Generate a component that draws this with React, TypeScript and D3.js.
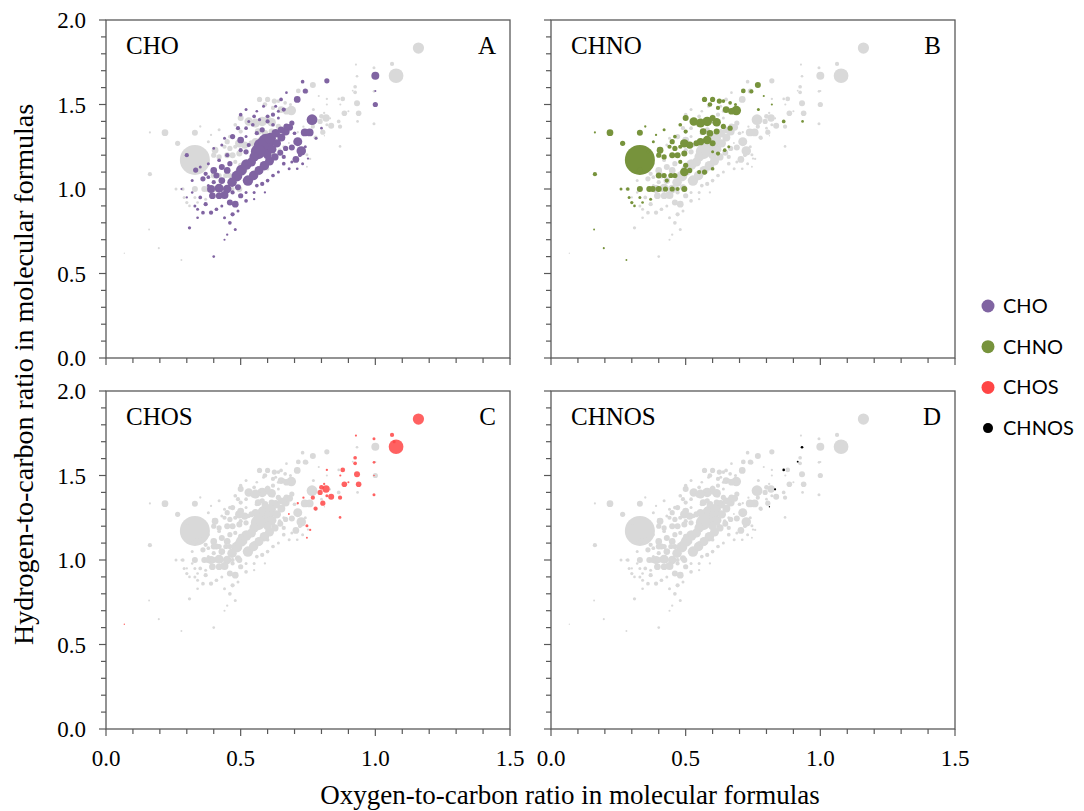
import React from "react";
import * as d3 from "d3";

// [O/C, H/C, relative intensity]
type Pt = [number, number, number];

const CHO: Pt[] = [
  [1.0, 1.67, 7], [1.0, 1.5, 3], [1.0, 1.58, 0.5], [0.82, 1.64, 3], [0.73, 1.635, 1.5], [0.74, 1.58, 3],
  [0.71, 1.53, 5], [0.65, 1.53, 1.5], [0.67, 1.57, 0.8], [0.765, 1.41, 13], [0.738, 1.335, 7], [0.756, 1.335, 7],
  [0.712, 1.28, 9], [0.725, 1.225, 10], [0.705, 1.175, 5], [0.69, 1.245, 4], [0.8, 1.36, 0.8],
  [0.78, 1.3, 1], [0.75, 1.18, 0.6], [0.66, 1.47, 2], [0.64, 1.46, 1], [0.62, 1.44, 2], [0.6, 1.43, 1.5],
  [0.585, 1.49, 1], [0.56, 1.46, 0.8], [0.55, 1.43, 1.5], [0.52, 1.47, 1], [0.5, 1.44, 1.5], [0.53, 1.4, 1],
  [0.63, 1.49, 1],
  // chain through the most intense region
  [0.55, 1.19, 10], [0.565, 1.22, 24], [0.58, 1.25, 34], [0.595, 1.28, 28], [0.61, 1.3, 14], [0.63, 1.33, 8],
  [0.65, 1.35, 5], [0.67, 1.37, 4], [0.69, 1.39, 3],
  // chain to its right
  [0.6, 1.2, 7], [0.617, 1.235, 8], [0.634, 1.27, 8], [0.651, 1.305, 7], [0.667, 1.34, 7], [0.682, 1.365, 5],
  // lower chain
  [0.527, 1.05, 12], [0.548, 1.08, 10], [0.568, 1.11, 9], [0.588, 1.138, 10], [0.607, 1.165, 9], [0.627, 1.19, 6],
  [0.647, 1.215, 4], [0.667, 1.24, 3],
  // left chain
  [0.45, 1.0, 8], [0.468, 1.04, 10], [0.486, 1.077, 13], [0.503, 1.112, 13], [0.521, 1.145, 12], [0.54, 1.16, 9],
  // left cloud
  [0.39, 1.0, 7], [0.42, 1.005, 9], [0.395, 0.96, 5], [0.42, 0.96, 5], [0.44, 0.965, 7],
  [0.36, 1.06, 3], [0.37, 1.09, 2], [0.4, 1.11, 5], [0.41, 1.08, 4], [0.43, 1.13, 4], [0.46, 1.15, 3],
  [0.45, 1.2, 2], [0.42, 1.17, 1.5], [0.38, 1.15, 1], [0.35, 1.13, 1], [0.333, 1.112, 3], [0.3, 1.2, 2],
  [0.32, 1.05, 1], [0.33, 0.9, 1], [0.35, 0.95, 1.5], [0.37, 0.91, 2], [0.36, 0.86, 1.5], [0.34, 0.88, 1],
  [0.39, 0.86, 2], [0.41, 0.88, 1.5], [0.43, 0.9, 1], [0.46, 0.92, 4], [0.48, 0.91, 5], [0.47, 0.85, 2],
  [0.49, 0.87, 1], [0.44, 0.83, 1], [0.46, 0.8, 1.5], [0.48, 0.76, 1], [0.31, 0.77, 1.2], [0.34, 0.83, 0.8],
  [0.4, 0.6, 0.8], [0.45, 0.73, 0.6], [0.44, 0.7, 0.5], [0.3, 0.95, 0.6], [0.28, 1.0, 0.5], [0.32, 0.98, 0.7],
  [0.38, 1.02, 1], [0.47, 0.98, 2], [0.5, 0.96, 3], [0.52, 0.98, 1], [0.52, 0.93, 1.5], [0.55, 0.98, 1],
  [0.56, 1.02, 1.5], [0.58, 1.03, 2], [0.6, 1.05, 1.5], [0.62, 1.08, 1.5], [0.64, 1.1, 1], [0.59, 0.98, 0.6],
  [0.66, 1.15, 1.5], [0.68, 1.12, 1], [0.71, 1.12, 0.8], [0.73, 1.15, 1], [0.55, 0.94, 0.6], [0.49, 1.01, 4],
  [0.45, 1.11, 5], [0.43, 1.05, 5], [0.4, 1.04, 2], [0.38, 1.07, 1.5],
  // upper middle
  [0.47, 1.31, 3], [0.49, 1.36, 2], [0.52, 1.36, 1.5], [0.545, 1.38, 1.5], [0.56, 1.33, 2], [0.58, 1.35, 3],
  [0.6, 1.4, 2], [0.62, 1.38, 1.5], [0.64, 1.42, 1], [0.57, 1.41, 1.2], [0.5, 1.29, 5], [0.5, 1.23, 2],
  [0.52, 1.22, 3], [0.53, 1.26, 2], [0.52, 1.31, 1], [0.43, 1.26, 1], [0.44, 1.3, 1],
  [0.4, 1.24, 0.8], [0.7, 1.33, 1.5], [0.74, 1.25, 1], [0.72, 1.2, 1.5],
  [0.69, 1.16, 1], [0.66, 1.19, 2],
];

const CHNO: Pt[] = [
  [0.33, 1.172, 100],
  [0.768, 1.615, 4], [0.714, 1.58, 2.5], [0.744, 1.577, 2], [0.688, 1.464, 10], [0.64, 1.52, 1.5],
  [0.665, 1.51, 1.5], [0.685, 1.5, 1],
  [0.57, 1.53, 3], [0.6, 1.53, 3], [0.625, 1.52, 3], [0.59, 1.5, 2.5], [0.62, 1.48, 2], [0.65, 1.47, 5], [0.67, 1.46, 5],
  [0.53, 1.4, 8], [0.555, 1.39, 9], [0.58, 1.4, 10], [0.615, 1.395, 8], [0.6, 1.42, 4],
  [0.5, 1.42, 4], [0.5, 1.34, 2], [0.48, 1.38, 1.5],
  [0.565, 1.34, 5], [0.59, 1.33, 5], [0.615, 1.34, 4], [0.64, 1.37, 3], [0.665, 1.36, 3],
  [0.495, 1.27, 8], [0.515, 1.26, 6], [0.54, 1.27, 4], [0.555, 1.28, 6], [0.58, 1.29, 8], [0.6, 1.27, 4],
  [0.495, 1.21, 4], [0.45, 1.28, 3], [0.46, 1.31, 1.5], [0.405, 1.23, 5], [0.4, 1.2, 3], [0.42, 1.19, 3],
  [0.45, 1.2, 4], [0.47, 1.2, 4], [0.48, 1.16, 2],
  [0.495, 1.1, 8], [0.5, 1.14, 3], [0.515, 1.11, 3],
  [0.33, 1.11, 4],
  [0.285, 1.0, 1.5], [0.33, 1.0, 4], [0.365, 1.0, 4], [0.378, 1.0, 4], [0.4, 1.0, 4], [0.425, 1.0, 3],
  [0.45, 1.0, 3], [0.495, 1.0, 4], [0.47, 1.0, 2], [0.26, 1.0, 1],
  [0.219, 1.333, 5], [0.33, 1.333, 4], [0.266, 1.27, 3], [0.163, 1.088, 2], [0.163, 1.335, 0.5],
  [0.4, 1.08, 4], [0.42, 1.08, 3], [0.43, 1.05, 2], [0.445, 1.08, 3], [0.46, 1.08, 3], [0.55, 1.1, 2],
  [0.57, 1.1, 3], [0.6, 1.12, 1.5],
  [0.29, 0.95, 1], [0.33, 0.95, 1], [0.37, 0.94, 1], [0.3, 0.92, 1.2], [0.31, 0.9, 0.8], [0.34, 0.92, 0.8],
  [0.6, 1.22, 1], [0.62, 1.21, 2], [0.645, 1.23, 1.5], [0.66, 1.25, 1],
  [0.864, 1.4, 1.5], [0.934, 1.4, 0.8], [0.77, 1.47, 1], [0.82, 1.5, 0.5], [0.79, 1.55, 0.5],
  [0.196, 0.65, 0.5], [0.16, 0.76, 0.4], [0.28, 0.58, 0.4],
  [0.36, 1.22, 1], [0.38, 1.28, 1], [0.42, 1.35, 1], [0.39, 1.32, 0.6], [0.35, 1.37, 0.6],
  [0.44, 1.25, 2], [0.46, 1.24, 3], [0.48, 1.25, 2],
];

const CHOS: Pt[] = [
  [1.16, 1.834, 14], [1.077, 1.67, 24], [1.062, 1.74, 2], [1.07, 1.7, 1], [0.995, 1.718, 1], [0.928, 1.736, 0.5],
  [0.925, 1.605, 1.5], [0.925, 1.572, 1.5], [0.879, 1.533, 2.5], [0.82, 1.533, 0.6], [0.932, 1.507, 4],
  [0.87, 1.5, 0.5], [0.9, 1.46, 0.5], [0.885, 1.448, 3.5], [0.938, 1.448, 3.5], [0.995, 1.578, 0.8],
  [0.995, 1.386, 1], [0.817, 1.42, 6], [0.8, 1.43, 2.5], [0.795, 1.4, 3], [0.836, 1.375, 4], [0.768, 1.369, 2],
  [0.733, 1.369, 0.6], [0.805, 1.336, 3], [0.778, 1.304, 2], [0.869, 1.369, 2], [0.869, 1.252, 0.8],
  [0.712, 1.336, 0.6], [0.679, 1.272, 0.4], [0.746, 1.203, 1], [0.758, 1.178, 0.6], [0.746, 1.132, 0.4],
  [0.068, 0.62, 0.2], [0.995, 1.5, 0.3], [0.81, 1.45, 0.6], [0.82, 1.38, 1],
];

const CHNOS: Pt[] = [
  [0.932, 1.667, 0.8], [0.916, 1.582, 0.4], [0.864, 1.533, 0.8], [0.832, 1.418, 0.5], [0.811, 1.315, 0.2],
];

const GROUP_NAMES = ["CHO", "CHNO", "CHOS", "CHNOS"];
const GROUP_DATA = [CHO, CHNO, CHOS, CHNOS];
const GROUP_COLORS = ["#8064A2", "#77933C", "#FF4545", "#000000"];
const PANEL_LETTERS = ["A", "B", "C", "D"];
const X_MAJOR = [0, 0.5, 1.0, 1.5];
const Y_MAJOR = [0, 0.5, 1.0, 1.5, 2.0];

const W = 1084;
const H = 811;
const PW = 404;
const PH = 338;
const PANELS = [
  { x0: 106, y0: 20 },
  { x0: 551, y0: 20 },
  { x0: 106, y0: 391 },
  { x0: 551, y0: 391 },
];

const AXIS = "#595959";
const GREY = "#D9D9D9";
const SERIF = "'Liberation Serif', 'Times New Roman', serif";

const rScale = d3.scaleSqrt().domain([0, 100]).range([0, 15]);

function Panel({ idx }: { idx: number }) {
  const { x0, y0 } = PANELS[idx];
  const x = d3.scaleLinear().domain([0, 1.5]).range([x0, x0 + PW]);
  const y = d3.scaleLinear().domain([0, 2]).range([y0 + PH, y0]);
  const showX = idx >= 2;
  const showY = idx % 2 === 0;

  // every other formula class in grey, larger bubbles underneath
  const others = GROUP_DATA.filter((_, i) => i !== idx).flat().slice().sort((a, b) => b[2] - a[2]);
  const own = GROUP_DATA[idx].slice().sort((a, b) => b[2] - a[2]);

  const xMinor = d3.range(0, 16).map((i) => i / 10);
  const yMinor = d3.range(0, 21).map((i) => i / 10);
  const isMajor = (v: number) => Math.abs(v * 2 - Math.round(v * 2)) < 1e-6;

  return (
    <g>
      {others.map((d, i) => (
        <circle key={"g" + i} cx={x(d[0])} cy={y(d[1])} r={Math.max(rScale(d[2]), 0.6)} fill={GREY} />
      ))}
      {own.map((d, i) => (
        <circle
          key={"c" + i}
          cx={x(d[0])}
          cy={y(d[1])}
          r={Math.max(rScale(d[2]), 0.6)}
          fill={GROUP_COLORS[idx]}
          fillOpacity={idx === 2 ? 0.85 : 1}
        />
      ))}
      <rect x={x0} y={y0} width={PW} height={PH} fill="none" stroke={AXIS} strokeWidth={1.3} />
      {xMinor.map((v) => (
        <line key={"xt" + v} x1={x(v)} x2={x(v)} y1={y0 + PH} y2={y0 + PH + (isMajor(v) ? 7 : 5)} stroke={AXIS} strokeWidth={1.2} />
      ))}
      {yMinor.map((v) => (
        <line key={"yt" + v} y1={y(v)} y2={y(v)} x1={x0} x2={x0 - (isMajor(v) ? 7 : 5)} stroke={AXIS} strokeWidth={1.2} />
      ))}
      {showX &&
        X_MAJOR.map((v) => (
          <text key={"xl" + v} x={x(v)} y={y0 + PH + 37} textAnchor="middle" fontFamily={SERIF} fontSize={23} fill="#000">
            {v.toFixed(1)}
          </text>
        ))}
      {showY &&
        Y_MAJOR.map((v) => (
          <text key={"yl" + v} x={x0 - 20} y={y(v) + 8} textAnchor="end" fontFamily={SERIF} fontSize={23} fill="#000">
            {v.toFixed(1)}
          </text>
        ))}
      <text x={x0 + 20} y={y0 + 34} fontFamily={SERIF} fontSize={25} fill="#000">
        {GROUP_NAMES[idx]}
      </text>
      <text x={x0 + PW - 14} y={y0 + 34} textAnchor="end" fontFamily={SERIF} fontSize={25} fill="#000">
        {PANEL_LETTERS[idx]}
      </text>
    </g>
  );
}

export default function App() {
  return (
    <svg width={W} height={H} style={{ position: "absolute", left: 0, top: 0, background: "#fff" }}>
      <rect width={W} height={H} fill="#fff" />
      {PANELS.map((_, i) => (
        <Panel key={i} idx={i} />
      ))}
      <text x={570} y={804} textAnchor="middle" fontFamily={SERIF} fontSize={27} fill="#000">
        Oxygen-to-carbon ratio in molecular formulas
      </text>
      <text transform="translate(33,374.5) rotate(-90)" textAnchor="middle" fontFamily={SERIF} fontSize={28} fill="#000">
        Hydrogen-to-carbon ratio in molecular formulas
      </text>
      {GROUP_NAMES.map((name, i) => (
        <g key={name} transform={`translate(988,${306 + i * 40.7})`}>
          <circle r={i === 3 ? 5 : 6.5} fill={GROUP_COLORS[i]} />
          <text x={15} y={7} fontFamily="Lato, 'Liberation Sans', sans-serif" fontSize={20} fill="#000">
            {name}
          </text>
        </g>
      ))}
    </svg>
  );
}
